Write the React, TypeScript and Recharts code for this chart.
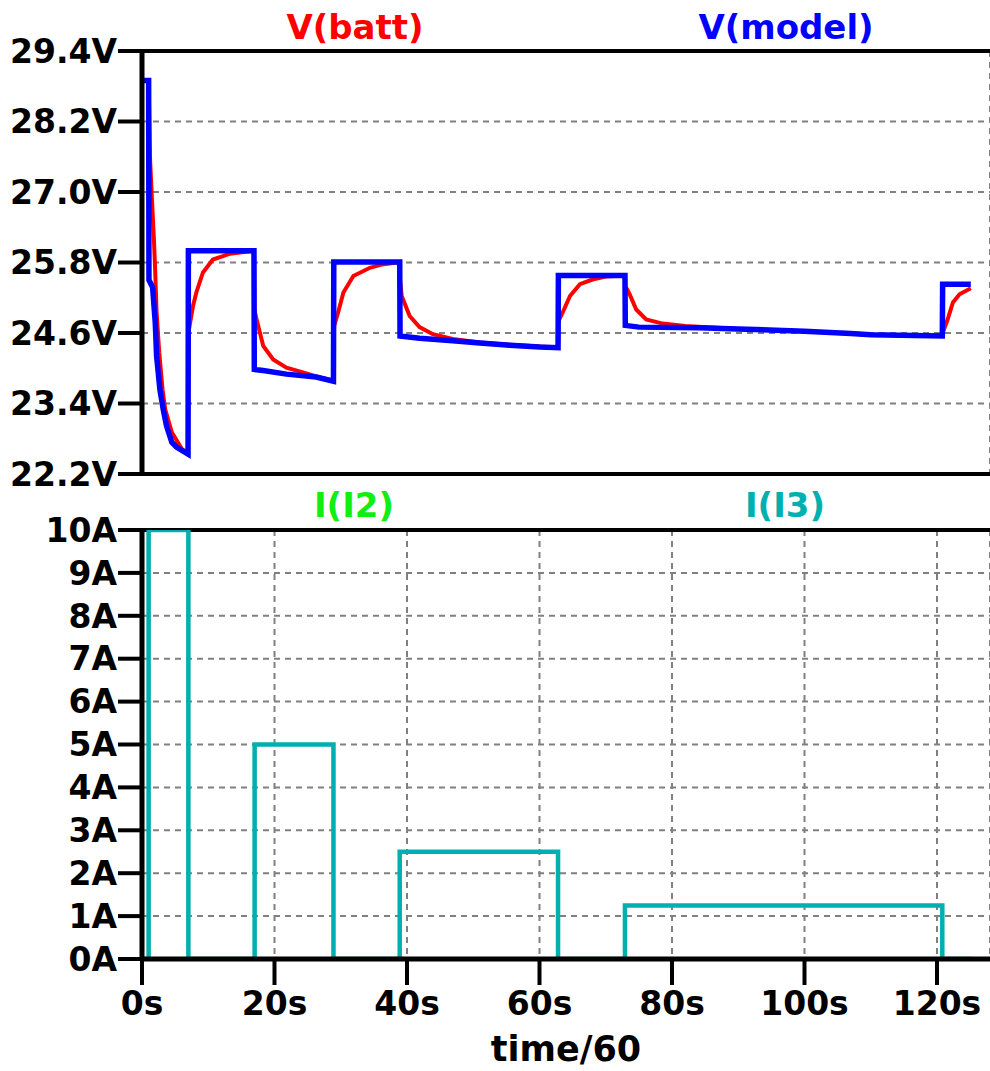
import React from 'react';
import { LineChart, Line, XAxis, YAxis, CartesianGrid, ReferenceLine } from 'recharts';

// time/60 axis (s)
const timeTicks = [0, 20, 40, 60, 80, 100, 120];
const voltTicks = [22.2, 23.4, 24.6, 25.8, 27.0, 28.2, 29.4];
const ampTicks = [0, 1, 2, 3, 4, 5, 6, 7, 8, 9, 10];

// V(batt) – red
const battTime = [0, 1.0, 1.2, 1.5, 1.8, 2.0, 2.2, 2.6, 3.1, 3.5, 4.5, 6.0, 6.95,
  7.0, 7.7, 8.2, 9.2, 10.7, 13.3, 16.9,
  16.95, 17.3, 18.3, 19.8, 21.8, 24.3, 26.3, 28.9,
  28.95, 29.6, 30.4, 31.9, 34.4, 36.0, 38.9,
  38.95, 39.2, 40.4, 41.9, 43.9, 46.9, 51, 55.5, 60, 62.8,
  62.85, 63.5, 64.6, 66.1, 68, 70, 72.9,
  72.95, 73.6, 74.6, 76.1, 78.6, 82, 90, 100, 110, 120.8,
  120.85, 121.6, 122.4, 123.4, 125.1];
const battVolts = [28.9, 28.9, 27.6, 26.87, 26.19, 25.63, 24.95, 24.27, 23.64, 23.3, 22.91, 22.63, 22.54,
  24.6, 25.06, 25.29, 25.63, 25.85, 25.95, 26.0,
  25.0, 24.83, 24.38, 24.15, 24.01, 23.93, 23.86, 23.79,
  24.7, 24.95, 25.29, 25.57, 25.71, 25.76, 25.81,
  25.5, 25.23, 24.89, 24.7, 24.58, 24.5, 24.44, 24.4, 24.37, 24.35,
  24.8, 24.95, 25.23, 25.43, 25.51, 25.56, 25.58,
  25.4, 25.26, 25.0, 24.83, 24.76, 24.72, 24.67, 24.63, 24.57, 24.55,
  24.6, 24.83, 25.12, 25.26, 25.36];

// V(model) – blue
const modelTime = [0, 1.0, 1.05, 1.6, 2.0, 2.2, 2.7, 3.2, 3.7, 4.5, 5.2, 6.95,
  7.0, 16.9, 16.95, 18.3, 21.8, 26.3, 28.9,
  28.95, 38.9, 38.95, 41.9, 46.9, 51, 55.5, 60, 62.8,
  62.85, 72.9, 72.95, 75, 84, 90, 100, 107, 110, 120.8,
  120.85, 125.1];
const modelVolts = [28.9, 28.9, 25.5, 25.38, 24.78, 24.21, 23.64, 23.3, 23.02, 22.74, 22.66, 22.54,
  26.0, 26.0, 23.98, 23.96, 23.9, 23.85, 23.78,
  25.81, 25.81, 24.55, 24.51, 24.47, 24.43, 24.39, 24.36, 24.35,
  25.58, 25.58, 24.73, 24.7, 24.69, 24.67, 24.63, 24.59, 24.57, 24.55,
  25.43, 25.43];

// I(I2) / I(I3) – load current
const currTime = [0, 1.0, 1.0, 7.0, 7.0, 17.0, 17.0, 28.9, 28.9, 38.9, 38.9, 62.8, 62.8,
  72.9, 72.9, 120.8, 120.8, 125.1];
const i2Amps = [0, 0, 10, 10, 0, 0, 5, 5, 0, 0, 2.5, 2.5, 0, 0, 1.25, 1.25, 0, 0];
const i3Amps = [0, 0, 10, 10, 0, 0, 5, 5, 0, 0, 2.5, 2.5, 0, 0, 1.25, 1.25, 0, 0];

const toRows = (ts: number[], vs: number[]) => ts.map((t, i) => ({ t, v: vs[i] }));

const FONT = '"DejaVu Sans", sans-serif';
const tickStyle = { fill: '#000', fontSize: 33, fontWeight: 700, fontFamily: FONT };
const gridStroke = '#808080';

const Title = ({ x, y, color, text }: { x: number; y: number; color: string; text: string }) => (
  <div
    style={{
      position: 'absolute',
      left: x - 150,
      top: y - 22,
      width: 300,
      textAlign: 'center',
      color,
      fontFamily: FONT,
      fontWeight: 700,
      fontSize: 34,
      lineHeight: '44px',
    }}
  >
    {text}
  </div>
);

export default function App() {
  const batt = toRows(battTime, battVolts);
  const model = toRows(modelTime, modelVolts);
  const i2 = toRows(currTime, i2Amps);
  const i3 = toRows(currTime, i3Amps);

  return (
    <div style={{ position: 'absolute', left: 0, top: 0, width: 990, height: 1071, background: '#fff', overflow: 'hidden' }}>
      {/* voltage pane */}
      <div style={{ position: 'absolute', left: 0, top: 0 }}>
        <LineChart width={990} height={500} margin={{ top: 51, right: 0, bottom: 26, left: 0 }}>
          <CartesianGrid stroke={gridStroke} strokeWidth={2} strokeDasharray="6 5" />
          <XAxis
            type="number"
            dataKey="t"
            domain={[0, 128]}
            ticks={timeTicks}
            tick={false}
            tickLine={false}
            axisLine={false}
            height={0}
            allowDataOverflow
          />
          <YAxis
            type="number"
            domain={[22.2, 29.4]}
            ticks={voltTicks}
            width={142}
            tickFormatter={(v: number) => `${v.toFixed(1)}V`}
            tick={tickStyle}
            tickSize={24}
            tickMargin={1}
            tickLine={{ stroke: '#000', strokeWidth: 4 }}
            axisLine={{ stroke: '#000', strokeWidth: 5 }}
            allowDataOverflow
          />
          <ReferenceLine y={29.4} stroke="#000" strokeWidth={4} />
          <ReferenceLine y={22.2} stroke="#000" strokeWidth={4} />
          <Line data={batt} dataKey="v" name="V(batt)" type="linear" stroke="#ff0000" strokeWidth={4}
            dot={false} activeDot={false} isAnimationActive={false} />
          <Line data={model} dataKey="v" name="V(model)" type="linear" stroke="#0000ff" strokeWidth={5.5}
            strokeLinejoin="miter" dot={false} activeDot={false} isAnimationActive={false} />
        </LineChart>
      </div>

      {/* current pane */}
      <div style={{ position: 'absolute', left: 0, top: 480 }}>
        <LineChart width={990} height={591} margin={{ top: 50, right: 0, bottom: 0, left: 0 }}>
          <CartesianGrid stroke={gridStroke} strokeWidth={2} strokeDasharray="6 5" />
          <XAxis
            type="number"
            dataKey="t"
            domain={[0, 128]}
            ticks={timeTicks}
            height={112}
            tickFormatter={(v: number) => `${v}s`}
            tick={tickStyle}
            tickSize={26}
            tickMargin={7}
            tickLine={{ stroke: '#000', strokeWidth: 4 }}
            axisLine={{ stroke: '#000', strokeWidth: 5 }}
            label={{ value: 'time/60', position: 'insideBottom', offset: 10, fill: '#000', fontSize: 35, fontWeight: 700, fontFamily: FONT }}
            allowDataOverflow
          />
          <YAxis
            type="number"
            domain={[0, 10]}
            ticks={ampTicks}
            width={142}
            tickFormatter={(v: number) => `${v}A`}
            tick={tickStyle}
            tickSize={24}
            tickMargin={1}
            tickLine={{ stroke: '#000', strokeWidth: 4 }}
            axisLine={{ stroke: '#000', strokeWidth: 5 }}
            allowDataOverflow
          />
          <ReferenceLine y={10} stroke="#000" strokeWidth={4} />
          <Line data={i2} dataKey="v" name="I(I2)" type="linear" stroke="#00ee00" strokeWidth={2.5}
            dot={false} activeDot={false} isAnimationActive={false} />
          <Line data={i3} dataKey="v" name="I(I3)" type="linear" stroke="#00b0b0" strokeWidth={4.5}
            strokeLinejoin="miter" dot={false} activeDot={false} isAnimationActive={false} />
        </LineChart>
      </div>

      <Title x={355} y={27} color="#ff0000" text="V(batt)" />
      <Title x={786} y={27} color="#0000ff" text="V(model)" />
      <Title x={354} y={505} color="#11ee11" text="I(I2)" />
      <Title x={785} y={505} color="#00b0b0" text="I(I3)" />
    </div>
  );
}
